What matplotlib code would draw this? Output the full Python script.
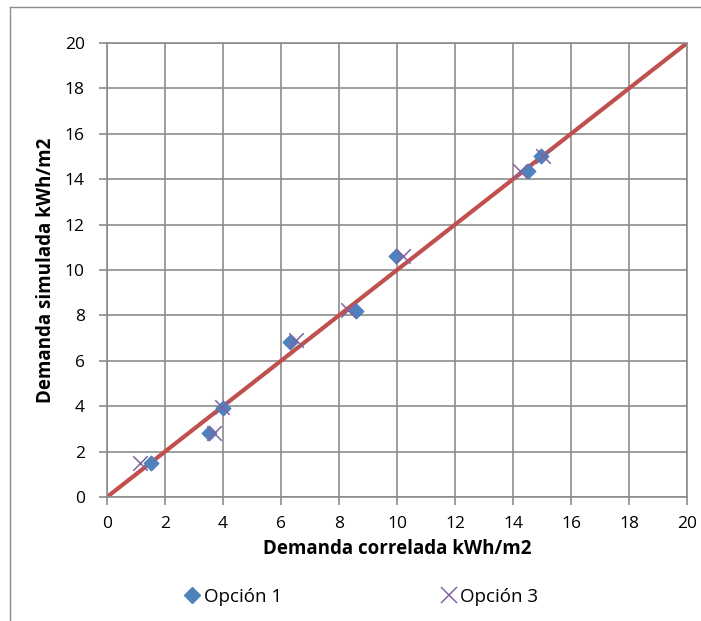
import matplotlib
matplotlib.use("Agg")
import matplotlib.pyplot as plt
from matplotlib.lines import Line2D

plt.rcParams['font.family'] = ['Open Sans', 'DejaVu Sans']

op1_x = [1.5, 3.5, 4.0, 6.3, 8.6, 9.95, 14.5, 14.95]
op1_y = [1.5, 2.8, 3.9, 6.85, 8.2, 10.6, 14.35, 15.0]
op3_x = [1.15, 3.7, 3.95, 6.5, 8.3, 10.2, 14.25, 15.05]
op3_y = [1.5, 2.8, 3.95, 6.9, 8.25, 10.6, 14.35, 15.0]
line_x = [0, 20]
line_y = [0, 20]
ticks = list(range(0, 21, 2))

fig = plt.figure(figsize=(7.01, 6.21), dpi=100)
ax = fig.add_axes([107/701, 1-497/621, (687-107)/701, (497-43)/621])

ax.plot(line_x, line_y, color='#C0504D', lw=3, zorder=2)
ax.scatter(op1_x, op1_y, marker='D', s=55, color='#4F81BD', zorder=3)
ax.scatter(op3_x, op3_y, marker='x', s=110, color='#8064A2', linewidths=1.1, zorder=4)

ax.set_xlim(0, 20)
ax.set_ylim(0, 20)
ax.set_xticks(ticks)
ax.set_yticks(ticks)
ax.grid(True, color='#8C8C8C', lw=1.2)
ax.set_axisbelow(True)
for s in ax.spines.values():
    s.set_color('#8C8C8C')
    s.set_linewidth(1.2)
ax.tick_params(axis='both', colors='#8C8C8C', labelcolor='black', labelsize=12.5, length=6, width=1.2)
ax.tick_params(axis='x', pad=8)
ax.tick_params(axis='y', pad=10)
ax.set_xlabel('Demanda correlada kWh/m2', fontsize=13.5, fontweight='bold', labelpad=5)
ax.set_ylabel('Demanda simulada kWh/m2', fontsize=13.5, fontweight='bold', labelpad=6)

h1 = Line2D([], [], marker='D', color='#4F81BD', ls='none', markersize=8)
h3 = Line2D([], [], marker='x', color='#8064A2', ls='none', markersize=11, markeredgewidth=1.1)
fig.legend([h1, h3], ['Opción 1', 'Opción 3'], loc='center', bbox_to_anchor=(0.513, 1-597/621),
           ncol=2, frameon=False, fontsize=13.5, columnspacing=8.3, handletextpad=0.0,
           handlelength=1.2)

fig.add_artist(Line2D([10/701, 1.0], [1-7/621, 1-7/621], transform=fig.transFigure,
                      color='#8C8C8C', lw=1))
fig.add_artist(Line2D([10/701, 10/701], [0, 1-7/621], transform=fig.transFigure,
                      color='#8C8C8C', lw=1))

fig.savefig('out.png', dpi=100)
